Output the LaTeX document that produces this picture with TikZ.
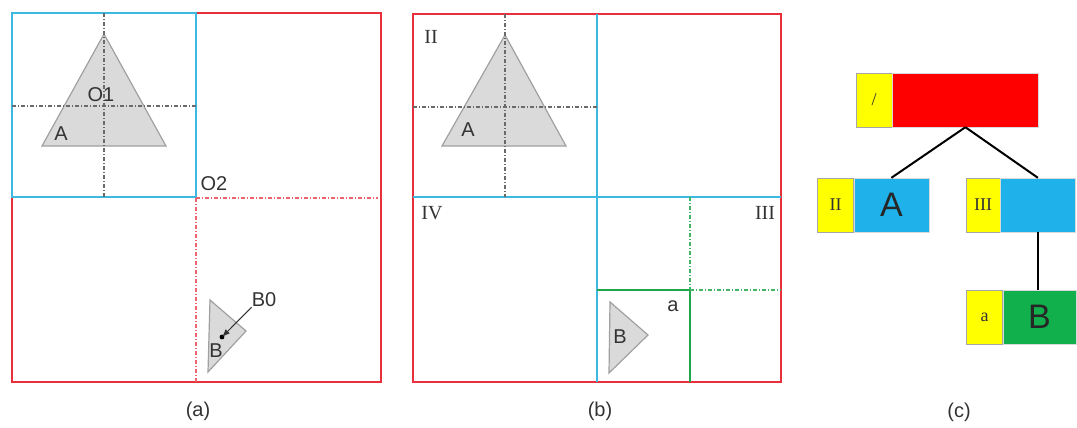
\documentclass[tikz,border=0pt]{standalone}
\usepackage{fontspec}
\setmainfont{Liberation Sans}
\newfontfamily\romfont{Liberation Serif}
\usetikzlibrary{arrows.meta,positioning,calc}
\definecolor{frame}{HTML}{E8303C}
\definecolor{quad}{HTML}{3DB8E0}
\definecolor{leaf}{HTML}{22A64A}
\definecolor{keyfill}{HTML}{FFFF00}
\definecolor{nodered}{HTML}{FF0000}
\definecolor{nodeblue}{HTML}{1FB2EA}
\definecolor{nodegreen}{HTML}{12B04C}
\definecolor{shapefill}{HTML}{DADADA}
\definecolor{shapeedge}{HTML}{A0A0A0}
\definecolor{axis}{HTML}{6A6A6A}
\definecolor{ink}{HTML}{333333}

\begin{document}
\begin{tikzpicture}[x=1pt,y=-1pt,>=Latex,
  every node/.style={font=\fontsize{20}{24}\selectfont,text=ink,inner sep=0pt},
  outer/.style={draw=frame,line width=2.4pt},
  split/.style={draw=quad,line width=2pt},
  axisline/.style={draw=axis,line width=1.1pt,dash pattern=on 4pt off 2pt on 1pt off 2pt},
  redaxis/.style={draw=frame!75,line width=1.1pt,dash pattern=on 4pt off 2pt on 1pt off 2pt},
  greenaxis/.style={draw=leaf!85,line width=1.1pt,dash pattern=on 4pt off 2pt on 1pt off 2pt},
  tri/.style={fill=shapefill,draw=shapeedge,line width=1.2pt},
  roman/.style={font=\romfont\fontsize{20}{24}\selectfont},
  keybox/.style={draw=black!35,fill=keyfill,minimum width=36pt,minimum height=54pt,font=\romfont\fontsize{18}{20}\selectfont},
  valbox/.style={draw=black!15,minimum width=75pt,minimum height=54pt,font=\fontsize{34}{36}\selectfont,text=black!85},
  edge/.style={draw=black,line width=2pt}]
\useasboundingbox (0,0) rectangle (1077,428);

% (a)
\draw[outer] (12,13) rectangle (381,382);
\draw[split] (12,13) rectangle (196,197);
\filldraw[tri] (104,34) -- (42,146) -- (166,146) -- cycle;
\draw[axisline] (104,13) -- (104,197);
\draw[axisline] (12,106) -- (196,106);
\node (o1) at (101,95) {O1};
\node (la) at (61,134) {A};
\node (o2) at (214,184) {O2};
\draw[redaxis] (196,198) -- (378,198);
\draw[redaxis] (196,198) -- (196,382);
\filldraw[tri] (210,300) -- (246,331) -- (208,372) -- cycle;
\node (lb) at (216,351) {B};
\node (bzero) at (264,300) {B0};
\coordinate (bdot) at (222,337);
\fill[black] (bdot) circle (2.4pt);
\draw[-{Latex[length=8pt,width=6pt]},black!80,line width=1pt] (bzero.south west) -- (bdot);
\node (capa) at (198,411) {(a)};

% (b)
\draw[outer] (413,14) rectangle (781,382);
\draw[split] (597,14) -- (597,382);
\draw[split] (413,197) -- (781,197);
\filldraw[tri] (505,35) -- (442,146) -- (566,146) -- cycle;
\draw[axisline] (505,14) -- (505,197);
\draw[axisline] (413,107) -- (597,107);
\node[roman] (qii) at (431,37) {II};
\node[roman] (qiv) at (432,213) {IV};
\node[roman] (qiii) at (765,213) {III};
\node (lab) at (468,130) {A};
\draw[draw=leaf,line width=2pt] (597,290) -- (690,290) -- (690,382);
\draw[greenaxis] (690,197) -- (690,290);
\draw[greenaxis] (690,290) -- (781,290);
\node (qa) at (673,306) {a};
\filldraw[tri] (610,302) -- (648,335) -- (609,373) -- cycle;
\node (lbb) at (620,337) {B};
\node (capb) at (600,411) {(b)};

% (c)
\node[keybox] (rootkey) at (874,100) {/};
\node[valbox,fill=nodered,minimum width=146pt,right=0pt of rootkey] (rootval) {};
\node[keybox] (iikey) at (835.5,205) {II};
\node[valbox,fill=nodeblue,right=0pt of iikey] (iival) {A};
\node[keybox,minimum width=34pt] (iiikey) at (983,205) {III};
\node[valbox,fill=nodeblue,right=0pt of iiikey] (iiival) {};
\node[keybox] (akey) at (984.5,317) {a};
\node[valbox,fill=nodegreen,minimum width=73pt,right=0pt of akey] (aval) {B};
\draw[edge] (rootval.south) -- (iival.north);
\draw[edge] (rootval.south) -- (iiival.north);
\draw[edge] (iiival.south) -- (iiival.south |- aval.north);
\node (capc) at (959,412) {(c)};
\end{tikzpicture}
\end{document}
